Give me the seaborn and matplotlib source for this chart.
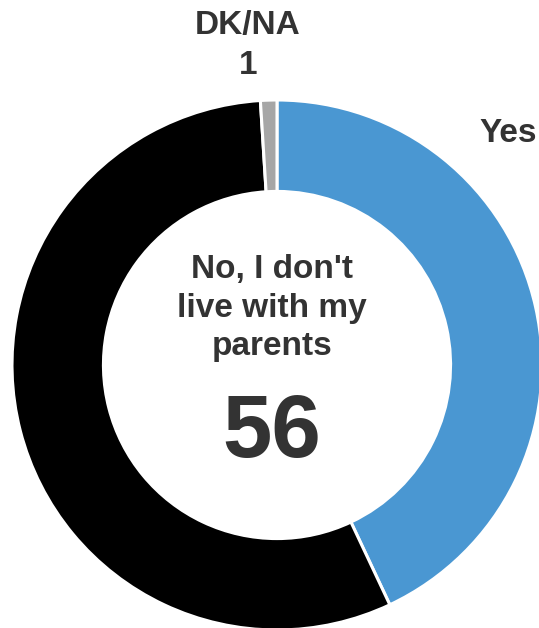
import matplotlib
matplotlib.use("Agg")
import matplotlib.pyplot as plt
import seaborn as sns
from matplotlib import font_manager

# ── Data ────────────────────────────────────────────────────────────────────
categories = ["Yes", "No, I don't live with my parents", "DK/NA"]
values     = [43, 56, 1]
colors     = ["#4A97D2", "#000000", "#A6A6A6"]

sns.set_theme(style="white")
names = {f.name for f in font_manager.fontManager.ttflist}
family = "Liberation Sans Narrow" if "Liberation Sans Narrow" in names else "Liberation Sans"
plt.rcParams["font.family"] = [family, "DejaVu Sans"]

TXT = "#333333"

fig = plt.figure(figsize=(5.39, 6.28), dpi=100)
# square axes, centre of the ring at (277, 365) px, radius 265 px
ax = fig.add_axes([12 / 539, (628 - 365 - 265) / 628, 530 / 539, 530 / 628])

wedges, _ = ax.pie(values, colors=colors, startangle=90, counterclock=False,
                   radius=1.0,
                   wedgeprops=dict(width=0.345, edgecolor="white", linewidth=2.2))
ax.set_xlim(-1, 1); ax.set_ylim(-1, 1)
ax.set_aspect("equal")
ax.axis("off")

# centre label
ax.text(-0.02, 0.215, "No, I don't\nlive with my\nparents", ha="center", va="center",
        fontsize=24, fontweight="bold", color=TXT, linespacing=1.3)
ax.text(-0.02, -0.26, str(values[1]), ha="center", va="center",
        fontsize=64, fontweight="bold", color=TXT)

# outer labels
ax.text(-0.11, 1.205, f"DK/NA\n{values[2]}", ha="center", va="center",
        fontsize=24, fontweight="bold", color=TXT, linespacing=1.35, clip_on=False)
ax.text(0.765, 0.875, "Yes", ha="left", va="center",
        fontsize=24, fontweight="bold", color=TXT, clip_on=False)

plt.savefig("out.png", dpi=100)
plt.close()
